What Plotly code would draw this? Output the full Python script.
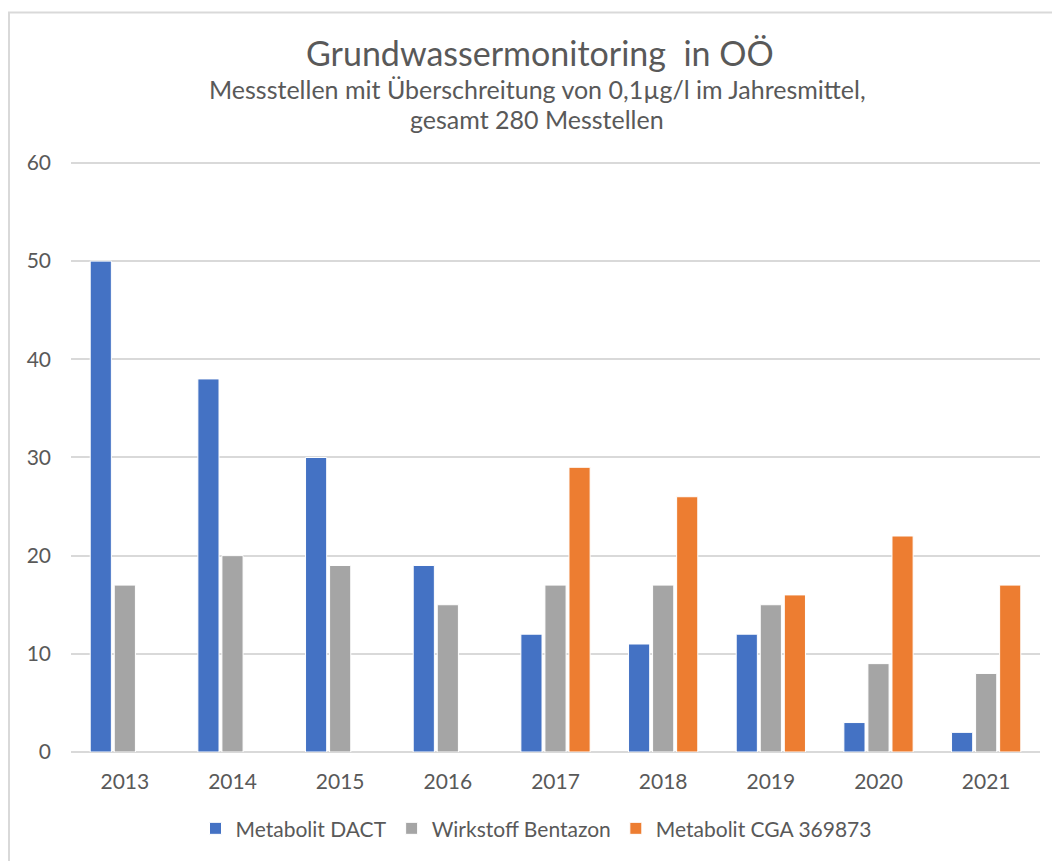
import plotly.graph_objects as go

years = ["2013", "2014", "2015", "2016", "2017", "2018", "2019", "2020", "2021"]
dact = [50, 38, 30, 19, 12, 11, 12, 3, 2]
bentazon = [17, 20, 19, 15, 17, 17, 15, 9, 8]
cga = [None, None, None, None, 29, 26, 16, 22, 17]
series_names = ["Metabolit DACT", "Wirkstoff Bentazon", "Metabolit CGA 369873"]
colors = ["#4472C4", "#A5A5A5", "#ED7D31"]
title_text = "Grundwassermonitoring  in OÖ"
subtitle_lines = ["Messstellen mit Überschreitung von 0,1µg/l im Jahresmittel,", "gesamt 280 Messtellen"]

OFF = 8  # default body margin of the html page
W, H = 1060 - OFF, 861 - OFF
YMAX = 60.3
px_per_unit = (754 - 162.5) / 60
plot_left, plot_right = 71 - OFF, 1040 - OFF
plot_bottom = 754 - OFF
plot_top = plot_bottom - YMAX * px_per_unit
L, R, T, B = plot_left, W - plot_right, plot_top, H - plot_bottom
pw, ph = plot_right - plot_left, plot_bottom - plot_top

def px_x(x):  # page x -> paper
    return (x - OFF - L) / pw

def px_y(y):  # page y -> paper
    return (plot_bottom - (y - OFF)) / ph

FONT = "Lato"
TXT = "#595959"

fig = go.Figure()
for name, vals, col in zip(series_names, [dact, bentazon, cga], colors):
    fig.add_trace(go.Bar(x=years, y=vals, name=name,
                         marker=dict(color=col, line=dict(color="white", width=1))))

fig.update_layout(
    width=W, height=H,
    margin=dict(l=L, r=R, t=T, b=B),
    paper_bgcolor="white", plot_bgcolor="white",
    barmode="group", bargap=0.33, bargroupgap=0.12,
    font=dict(family=FONT, color=TXT, size=21),
    showlegend=True,
    legend=dict(orientation="h", x=px_x(536), xanchor="center", y=px_y(831), yanchor="middle",
                font=dict(size=21, color=TXT), itemwidth=30, traceorder="normal"),
    xaxis=dict(showgrid=False, showline=False, ticks="", tickfont=dict(size=21, color=TXT),
               ticklabelstandoff=15),
    yaxis=dict(range=[0, YMAX], tickvals=[0, 10, 20, 30, 40, 50, 60], showgrid=True,
               gridcolor="#D9D9D9", gridwidth=1.5,
               zeroline=True, zerolinecolor="#D9D9D9", zerolinewidth=1.5,
               showline=False, ticks="", tickfont=dict(size=21, color=TXT),
               ticklabelstandoff=19),
)

fig.add_annotation(text=title_text, x=px_x(540), y=px_y(52), xref="paper", yref="paper",
                   showarrow=False, xanchor="center", yanchor="middle",
                   font=dict(size=34, color=TXT, family=FONT))
for i, line in enumerate(subtitle_lines):
    fig.add_annotation(text=line, x=px_x(537), y=px_y(88 + 30 * i), xref="paper", yref="paper",
                       showarrow=False, xanchor="center", yanchor="middle",
                       font=dict(size=25, color=TXT, family=FONT))

# chart frame
fig.add_shape(type="rect", xref="paper", yref="paper",
              xsizemode="pixel", ysizemode="pixel", xanchor=0, yanchor=1,
              x0=1 - L, x1=W + 20 - L, y0=-(H + 20 - T), y1=T - 4,
              line=dict(color="#D9D9D9", width=2), fillcolor="rgba(0,0,0,0)", layer="below")

fig.write_html("out.html")
